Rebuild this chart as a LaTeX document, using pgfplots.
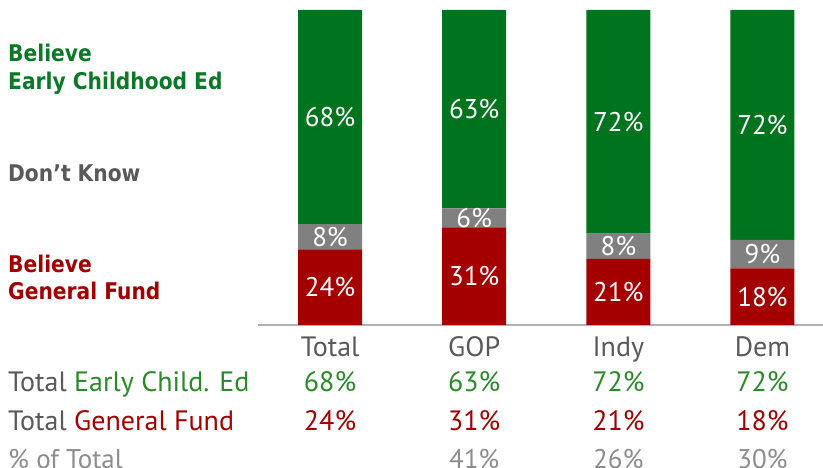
\documentclass[border=0pt]{standalone}
\usepackage{pgfplots}
\usepackage{pgfplotstable}
\pgfplotsset{compat=1.18}
\usepackage{fontspec}
\setmainfont{PT Sans}
\newfontfamily\labfont[FakeStretch=0.88]{DejaVu Sans}
\definecolor{barGreen}{HTML}{00731F}
\definecolor{barGray}{HTML}{808080}
\definecolor{barRed}{HTML}{A50000}
\definecolor{txtGreen}{HTML}{0A7A28}
\definecolor{rowGreen}{HTML}{2A8A2A}
\definecolor{txtRed}{HTML}{A00000}
\definecolor{txtGray}{HTML}{595959}
\definecolor{lightGray}{HTML}{8C8C8C}
\definecolor{axisGray}{HTML}{B0B0B0}
\pgfplotstableread{
x r k g rl kl gl
0 24 8 68 24 8 68
1 31 6 63 31 6 63
2 21 8 71 21 8 72
3 18 9 73 18 9 72
}\datatab
\tikzset{
  catlab/.style={anchor=base, inner sep=0pt, text=txtGray, font=\fontsize{28}{30}\selectfont},
  grnlab/.style={anchor=base, inner sep=0pt, text=rowGreen, font=\fontsize{28}{30}\selectfont},
  redlab/.style={anchor=base, inner sep=0pt, text=txtRed, font=\fontsize{28}{30}\selectfont},
  grylab/.style={anchor=base, inner sep=0pt, text=lightGray, font=\fontsize{27}{29}\selectfont},
}
\begin{document}
\begin{tikzpicture}
\path[use as bounding box] (0,0) rectangle (823pt,468pt);
\begin{axis}[
  at={(258pt,143pt)}, anchor=south west,
  scale only axis, width=565pt, height=315pt,
  xmin=-0.5, xmax=3.42, ymin=0, ymax=100,
  ybar stacked, bar width=64pt,
  axis y line=none, axis x line*=bottom,
  x axis line style={draw=axisGray, line width=2pt, -},
  xtick=\empty, clip=false,
  point meta=explicit symbolic,
  nodes near coords={\pgfplotspointmeta\%},
  every node near coord/.append style={text=white, font=\fontsize{27}{29}\selectfont, anchor=center, inner sep=0pt},
]
\addplot[fill=barRed, draw=none] table[x=x, y=r, meta=rl] {\datatab};
\addplot[fill=barGray, draw=none] table[x=x, y=k, meta=kl] {\datatab};
\addplot[fill=barGreen, draw=none] table[x=x, y=g, meta=gl] {\datatab};
% category labels
\node[catlab] at ([yshift=-32pt]axis cs:0,0) {Total};
\node[catlab] at ([yshift=-32pt]axis cs:1,0) {GOP};
\node[catlab] at ([yshift=-32pt]axis cs:2,0) {Indy};
\node[catlab] at ([yshift=-32pt]axis cs:3,0) {Dem};
\node[grnlab] at ([yshift=-67pt]axis cs:0,0) {68\%};
\node[grnlab] at ([yshift=-67pt]axis cs:1,0) {63\%};
\node[grnlab] at ([yshift=-67pt]axis cs:2,0) {72\%};
\node[grnlab] at ([yshift=-67pt]axis cs:3,0) {72\%};
\node[redlab] at ([yshift=-106pt]axis cs:0,0) {24\%};
\node[redlab] at ([yshift=-106pt]axis cs:1,0) {31\%};
\node[redlab] at ([yshift=-106pt]axis cs:2,0) {21\%};
\node[redlab] at ([yshift=-106pt]axis cs:3,0) {18\%};
\node[grylab] at ([yshift=-143.5pt]axis cs:1,0) {41\%};
\node[grylab] at ([yshift=-143.5pt]axis cs:2,0) {26\%};
\node[grylab] at ([yshift=-143.5pt]axis cs:3,0) {30\%};
\end{axis}
% left labels
\begin{scope}[every node/.style={anchor=base west, inner sep=0pt}]
\node[text=txtGreen, font=\labfont\bfseries\fontsize{23}{25}\selectfont] at (8pt,406pt) {Believe};
\node[text=txtGreen, font=\labfont\bfseries\fontsize{23}{25}\selectfont] at (8pt,378pt) {Early Childhood Ed};
\node[text=txtGray, font=\labfont\bfseries\fontsize{23}{25}\selectfont] at (8pt,286pt) {Don’t Know};
\node[text=txtRed, font=\labfont\bfseries\fontsize{23}{25}\selectfont] at (8pt,195pt) {Believe};
\node[text=txtRed, font=\labfont\bfseries\fontsize{23}{25}\selectfont] at (8pt,168pt) {General Fund};
\node[font=\fontsize{28}{30}\selectfont] at (8pt,76pt) {\textcolor{txtGray}{Total} \textcolor{rowGreen}{Early Child. Ed}};
\node[font=\fontsize{28}{30}\selectfont] at (8pt,37pt) {\textcolor{txtGray}{Total} \textcolor{txtRed}{General Fund}};
\node[text=lightGray, font=\fontsize{27}{29}\selectfont] at (8pt,-0.5pt) {\% of Total};
\end{scope}
\end{tikzpicture}
\end{document}
